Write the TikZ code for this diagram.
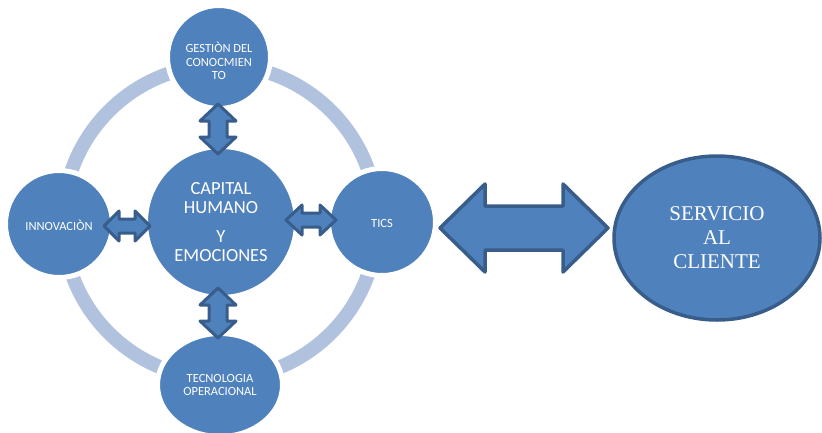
\documentclass[tikz,border=0pt]{standalone}
\usepackage{fontspec}
\usetikzlibrary{shapes.geometric}
\setmainfont{Carlito}
\newfontfamily\timesfont{Liberation Serif}
\definecolor{fillblue}{HTML}{4F81BD}
\definecolor{edgeblue}{HTML}{385D8A}
\definecolor{ringblue}{HTML}{B0C2DE}
\tikzset{
  sat/.style={circle, fill=fillblue, draw=white, line width=5pt, inner sep=0pt},
  sattext/.style={text=white, align=center, font=\fontsize{12.5}{13.5}\selectfont, inner sep=0pt},
  blockarr/.style={fill=fillblue, draw=edgeblue, line width=3pt, line join=round},
  bigarr/.style={fill=fillblue, draw=edgeblue, line width=3.5pt, line join=round},
}
\newcommand{\dblarr}[5][blockarr]{%
  % #2 half length, #3 head length, #4 head half width, #5 shaft half width
  \draw[#1] (-#2,0) -- (-#2+#3,#4) -- (-#2+#3,#5) -- (#2-#3,#5) -- (#2-#3,#4) -- (#2,0)
    -- (#2-#3,-#4) -- (#2-#3,-#5) -- (-#2+#3,-#5) -- (-#2+#3,-#4) -- cycle;}
\begin{document}
\begin{tikzpicture}[x=1pt,y=-1pt]
\useasboundingbox (0,0) rectangle (822,432);
% ring
\draw[ringblue, line width=14pt] (220,222) circle (157);
% circles
\node[sat, minimum size=151pt] (ctr) at (221,222) {};
\node[sat, minimum size=103pt] (gest) at (219,57) {};
\node[sat, minimum size=107pt] (inno) at (59,224) {};
\node[sat, minimum size=107pt] (tics) at (382,222) {};
\node[sat, ellipse, minimum width=125pt, minimum height=103pt] (tec) at (220,385) {};
% texts
\node[sattext] (gestt) at ([yshift=-4pt]gest.center) {GESTIÒN DEL\\CONOCMIEN\\TO};
\node[sattext] (innot) at ([yshift=-1pt]inno.center) {INNOVACIÒN};
\node[sattext] (ticst) at ([yshift=-1pt]tics.center) {TICS};
\node[sattext] (tect) at (tec.center) {TECNOLOGIA\\OPERACIONAL};
\node[text=white, align=center, inner sep=0pt, font=\fontsize{18.5}{19.5}\selectfont] (ctrt) at (221,222)
  {CAPITAL\\HUMANO\\[9pt]Y\\EMOCIONES};
% small double arrows
\begin{scope}[shift={(218,129)}, rotate=90] \dblarr{25}{17}{18}{9} \end{scope}
\begin{scope}[shift={(218,313)}, rotate=90] \dblarr{25}{17}{18}{9} \end{scope}
\begin{scope}[shift={(127,226)}] \dblarr{23}{15}{15}{7} \end{scope}
\begin{scope}[shift={(311,220)}] \dblarr{25}{16}{15}{7} \end{scope}
% big double arrow
\begin{scope}[shift={(524,228)}] \dblarr[bigarr]{84}{45}{44}{22} \end{scope}
% service ellipse
\node[ellipse, fill=fillblue, draw=edgeblue, line width=3.5pt, minimum width=206pt, minimum height=164pt,
  text=white, align=center, font=\timesfont\fontsize{21}{24}\selectfont] (serv) at (717,238)
  {SERVICIO\\AL\\CLIENTE};
\end{tikzpicture}
\end{document}
